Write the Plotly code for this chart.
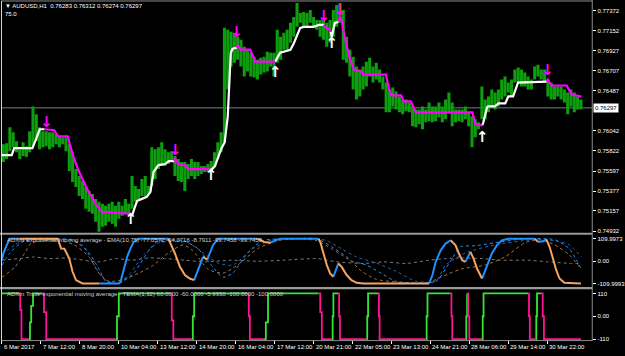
import numpy as np
import plotly.graph_objects as go

# ---------------- data ----------------
header_text = "▼ AUDUSD,H1  0.76283 0.76312 0.76274 0.76297"
header_text2 = "75.0"
ema_title = "ADXm Exponential moving average - EMA(10,75) -77.0572 -94.0716 -8.7911 -99.7458 -99.7458"
tema_title = "ADXm Triple exponential moving average - TEMA(1,32) 60.0000 -60.0000 -5.9930 -100.0000 -100.0000"
last_close = 0.76297

time_labels = ["6 Mar 2017", "7 Mar 12:00", "8 Mar 20:00", "10 Mar 04:00", "13 Mar 12:00",
               "14 Mar 20:00", "16 Mar 04:00", "17 Mar 12:00", "20 Mar 21:00", "22 Mar 05:00",
               "23 Mar 13:00", "24 Mar 21:00", "28 Mar 06:00", "29 Mar 14:00", "30 Mar 22:00"]
time_label_bars = [0, 32, 64, 96, 128, 160, 192, 224, 256, 288, 320, 352, 384, 416, 448]

price_ticks = [0.77372, 0.77152, 0.76927, 0.76707, 0.76487, 0.76042,
               0.75822, 0.75597, 0.75377, 0.75157, 0.74932]
ema_ticks = [109.9973, 0.0, -109.9993]
ema_tick_text = ["109.9973", "0.00", "-109.9993"]
tema_ticks = [110, 0, -110]
tema_tick_text = ["110", "0.00", "-110"]

# price columns, one every ~2.7 hourly bars
sample_first_bar = 1.08
sample_step = 2.712
price_high = [
 0.75895,0.75906,0.76082,0.76027,0.75928,0.75840,0.75917,0.75873,0.76038,0.76313,
 0.76225,0.76082,0.76038,0.76038,0.76027,0.76027,0.76005,0.75983,0.75972,0.75972,
 0.75895,0.75807,0.75620,0.75543,0.75488,0.75422,0.75378,0.75345,0.75290,0.75257,
 0.75235,0.75213,0.75235,0.75257,0.75213,0.75257,0.75213,0.75290,0.75235,0.75543,
 0.75433,0.75400,0.75510,0.75543,0.75433,0.75862,0.75840,0.75862,0.75917,0.75840,
 0.75807,0.75818,0.75763,0.75730,0.75697,0.75697,0.75675,0.75730,0.75697,0.75697,
 0.75653,0.75653,0.75675,0.75708,0.75807,0.75917,0.76027,0.77182,0.77160,0.77138,
 0.77127,0.77083,0.77050,0.76973,0.76940,0.76907,0.76863,0.76830,0.76852,0.76863,
 0.76918,0.76907,0.76907,0.77160,0.77083,0.77127,0.77160,0.77237,0.77303,0.77457,
 0.77347,0.77358,0.77347,0.77380,0.77303,0.77270,0.77270,0.77270,0.77237,0.77270,
 0.77380,0.77435,0.77457,0.77380,0.77083,0.76940,0.76863,0.76753,0.76720,0.76753,
 0.76808,0.76852,0.76753,0.76797,0.76720,0.76643,0.76577,0.76500,0.76522,0.76478,
 0.76423,0.76390,0.76390,0.76357,0.76313,0.76280,0.76280,0.76313,0.76280,0.76357,
 0.76313,0.76313,0.76357,0.76313,0.76390,0.76467,0.76357,0.76280,0.76280,0.76280,
 0.76313,0.76247,0.76203,0.76170,0.76137,0.76533,0.76390,0.76423,0.76500,0.76467,
 0.76500,0.76610,0.76643,0.76577,0.76610,0.76720,0.76742,0.76720,0.76687,0.76643,
 0.76610,0.76753,0.76775,0.76720,0.76720,0.76610,0.76577,0.76533,0.76533,0.76533,
 0.76500,0.76467,0.76500,0.76467,0.76423,0.76390]
price_low = [
 0.75697,0.75730,0.75818,0.75862,0.75807,0.75730,0.75763,0.75752,0.75807,0.75873,
 0.75928,0.75840,0.75862,0.75873,0.75840,0.75862,0.75895,0.75862,0.75895,0.75818,
 0.75598,0.75477,0.75422,0.75323,0.75290,0.75180,0.75147,0.75125,0.75037,0.74927,
 0.74982,0.74993,0.75037,0.75015,0.74982,0.75070,0.75103,0.75125,0.75125,0.75180,
 0.75257,0.75290,0.75323,0.75323,0.75345,0.75433,0.75510,0.75620,0.75653,0.75653,
 0.75675,0.75697,0.75543,0.75488,0.75477,0.75378,0.75510,0.75543,0.75510,0.75543,
 0.75565,0.75587,0.75587,0.75587,0.75653,0.75730,0.75807,0.75917,0.76500,0.76753,
 0.76797,0.76830,0.76753,0.76643,0.76698,0.76643,0.76632,0.76610,0.76665,0.76687,
 0.76698,0.76753,0.76643,0.76797,0.76830,0.76940,0.76940,0.77017,0.77083,0.77193,
 0.77237,0.77193,0.77193,0.77237,0.77193,0.77160,0.77083,0.77050,0.76973,0.77017,
 0.77083,0.77193,0.77237,0.76830,0.76797,0.76643,0.76500,0.76390,0.76423,0.76500,
 0.76533,0.76643,0.76577,0.76610,0.76577,0.76500,0.76247,0.76247,0.76313,0.76280,
 0.76247,0.76225,0.76258,0.76247,0.76093,0.76082,0.76115,0.76060,0.76137,0.76148,
 0.76137,0.76148,0.76192,0.76137,0.76170,0.76247,0.76093,0.76137,0.76148,0.76137,
 0.76170,0.76093,0.75862,0.75972,0.76060,0.76170,0.76170,0.76247,0.76313,0.76280,
 0.76313,0.76390,0.76423,0.76467,0.76423,0.76577,0.76577,0.76533,0.76533,0.76500,
 0.76500,0.76610,0.76643,0.76610,0.76577,0.76423,0.76390,0.76390,0.76423,0.76390,
 0.76357,0.76225,0.76313,0.76247,0.76280,0.76280]

# trend line (white = up, magenta = down); dir is the colour of the segment ending at the point
trend_bar = [0, 8, 10, 25, 28, 31, 35,
             43, 46, 54, 58, 63, 70, 77, 82, 92, 106,
             107, 111, 119, 122, 124.5, 128.5, 134, 137, 141.5,
             142, 145, 150.5, 153, 171,
             172, 175, 180, 183, 185.5, 188, 189.5, 193,
             193.5, 196, 204, 208, 224.5,
             228.5, 237, 240, 245, 248, 256, 260.5, 264.5,
             265, 268.5, 270,
             271, 273.5, 276.5,
             277.5, 279, 281.5, 285.5, 289, 295.5, 297, 315.5, 318, 320, 328, 330, 336, 340, 386.5, 389, 394.5,
             395.5, 398.5, 399.5, 405, 408, 413.5, 416, 420, 424, 447.5,
             448.5, 451.5, 464, 468, 476]
trend_price = [0.75774, 0.75774, 0.75851, 0.75851, 0.75950, 0.76060, 0.76060,
               0.76049, 0.75983, 0.75983, 0.75785, 0.75598, 0.75400, 0.75235, 0.75147, 0.75136, 0.75125,
               0.75114, 0.75268, 0.75312, 0.75367, 0.75587, 0.75664, 0.75675, 0.75708, 0.75708,
               0.75741, 0.75675, 0.75664, 0.75620, 0.75620,
               0.75609, 0.75653, 0.75840, 0.75917, 0.76203, 0.76907, 0.76951, 0.76962,
               0.76995, 0.76940, 0.76940, 0.76808, 0.76808,
               0.76907, 0.76940, 0.77017, 0.77182, 0.77193, 0.77193, 0.77215, 0.77215,
               0.77193, 0.77171, 0.77138,
               0.77083, 0.77237, 0.77248,
               0.77303, 0.77270, 0.77083, 0.76863, 0.76720, 0.76698, 0.76665, 0.76665, 0.76500, 0.76434,
               0.76434, 0.76368, 0.76368, 0.76247, 0.76247, 0.76115, 0.76104,
               0.76137, 0.76302, 0.76313, 0.76313, 0.76346, 0.76346, 0.76423, 0.76423, 0.76577, 0.76588,
               0.76610, 0.76544, 0.76544, 0.76445, 0.76423]
trend_dir = list("uuuuuuu" + "dddddddddd" + "uuuuuuuuu" + "ddddd" + "uuuuuuuu" + "ddddd" +
                 "uuuuuuuu" + "ddd" + "uuu" + "ddddddddddddddddd" + "uuuuuuuuuu" + "ddddd")

# signal arrows
down_arrow_bar = [36.6, 142.4, 192.8, 264.4, 277.5, 448.3]
down_arrow_price = [0.76126, 0.75818, 0.77127, 0.77303, 0.77370, 0.76698]
up_arrow_bar = [105.8, 171.7, 224.6, 271.0, 394.6]
up_arrow_price = [0.75048, 0.75543, 0.76676, 0.76995, 0.75961]

# ADXm EMA panel: main line (blue rising / orange falling)
ema_bar = [0, 1.1, 3.8, 6.5, 14.6, 45.8, 48.6, 51.3, 55.3, 58, 60.8, 66.2, 79.7, 96, 97.4, 100, 102.8,
           105.5, 108.2, 112.3, 136.7, 138, 142.1, 146.2, 150.3, 154.3, 157.9, 161.1, 165.2, 168.7,
           173.3, 177.4, 209.9, 215.4, 220.8, 224.8, 228.9, 260.1, 261.5, 264.2, 266.9, 269.6, 272.3,
           276.4, 279.1, 283.2, 287.2, 291.3, 296.7, 351, 353.7, 356.4, 360.5, 364.5, 368.6, 372.7,
           375.4, 378.1, 380.8, 384.9, 387.5, 390.3, 394.4, 398.4, 402.5, 406.6, 410.7, 416.1, 437.8,
           440.4, 444.5, 447.3, 450, 452.7, 455.4, 458.1, 462.1, 475.7]
ema_main = [4, 37, 77, 110, 110, 110, 61, 60, 12, -53, -94, -110, -110, -110, -102, -45, 20, 61, 94,
            110, 110, 94, 37, -28, -69, -86, -94, -45, 20, 7, 77, 110, 110, 94, 90, 102, 110, 110, 94,
            37, -20, -61, -77, -12, -29, -69, -94, -107, -110, -110, -69, -4, 53, 86, 102, 77, 37, 4,
            -4, 45, 12, -37, -86, -20, 37, 77, 102, 110, 110, 94, 97, 107, 69, 12, -45, -86, -107, -110]
ema_dir = list("uuuuu" + "dddddddd" + "uuuuuuuu" + "dddddd" + "uu" + "d" + "uuu" + "dd" + "uuu" +
               "ddddd" + "u" + "dddddd" + "uuuuu" + "dddd" + "u" + "ddd" + "uuuuuu" + "d" + "uu" + "dddddd")

# dotted component lines
gray_dot_bar = [0, 14.6, 25.2, 39, 52.9, 79.7, 93.6, 106.6, 120.4, 134.3, 150.5, 166.8, 188, 209.9,
                231.9, 258.7, 275, 297, 313.3, 332, 350.7, 364.5, 378.4, 394.6, 410.9, 432.1, 448.3,
                467.9, 476]
gray_dot = [4, 12, 20, 12, 15, -4, 12, 4, 15, 12, 4, -4, 4, -1, 4, 12, -4, -12, -4, -12, 4, 12, 15,
            12, 4, 4, -4, -12, -12]
blue_dot_a_bar = [0, 6.5, 18.7, 47.2, 59.4, 71.6, 79.7, 85.4, 96, 108.2, 120.4, 128.6, 148.9, 161.1,
                  173.3, 181.4, 189.6, 201.8, 214, 242.5, 258.7, 270.9, 279.1, 287.2, 299.4, 311.6,
                  323.8, 356.4, 368.6, 376.7, 388.9, 405.2, 429.6, 454, 466.2, 476]
blue_dot_a = [-20, 40, 100, 110, 100, 40, -40, -100, -110, -60, 50, 100, 100, 60, -30, -80, -60, 40,
              100, 110, 100, 60, 30, 0, -20, -60, -100, -100, 0, 70, 75, 90, 110, 105, 60, -40]
blue_dot_b_bar = [0, 10.6, 22.8, 55.3, 67.5, 75.7, 83.8, 94.4, 104.1, 116.4, 128.6, 153, 165.2, 177.4,
                  189.6, 205.9, 222.1, 258.7, 266.9, 279.1, 291.3, 307.6, 323.8, 340.1, 356.4, 364.5,
                  380.8, 405.2, 437.8, 454, 466.2, 476]
blue_dot_b = [30, 80, 110, 105, 70, -20, -90, -110, -70, 30, 90, 90, 40, -10, -20, 60, 105, 110, 100,
              60, 20, -10, -50, -100, -100, -20, 40, 80, 105, 100, 80, 20]
orange_dot_bar = [0, 10.6, 18.7, 24.4, 47.2, 59.4, 71.6, 79.7, 87.9, 100.1, 112.3, 124.5, 136.7, 148.9,
                  157, 169.2, 181.4, 193.6, 209.9, 226.2, 258.7, 270.9, 283.2, 295.4, 307.6, 348.3,
                  360.5, 376.7, 397, 413.3, 429.6, 441.8, 454, 466.2, 476]
orange_dot = [-80, -30, 40, 90, 100, 80, 20, -60, -100, -90, -60, -20, 40, 80, 50, -40, -60, -20, 60,
              100, 110, 70, 20, -50, -90, -110, -80, -40, -20, 20, 90, 105, 80, 30, -40]

# ADXm TEMA panel (green up / pink down), stepped
tema_bar = [0, 14, 15, 16, 22, 23, 24, 25.5, 33, 34.5, 36.4, 93.3, 94.5, 96, 138, 139.5, 140.8, 155.7,
            156.8, 157.9, 201.8, 202.8, 203.7, 215.4, 216.8, 218.6, 260.1, 261.5, 262.8, 271, 271.7,
            272.3, 276.4, 277, 277.7, 299.4, 300.1, 300.8, 309, 309.7, 310.3, 348.2, 348.9, 349.6,
            368.6, 369.3, 370, 380.8, 381.5, 382.2, 383, 384, 394.4, 395, 395.7, 432.3, 433, 433.7,
            438.3, 439, 439.6, 443.2, 444.3, 445.3, 475.7]
tema_val = [110, 110, 30, -110, -110, -30, 50, 110, 110, 20, -110, -110, 0, 110, 110, -20, -110, -110,
            0, 110, 110, 0, -110, -110, -30, 110, 110, 20, -110, -110, 0, 110, 110, 0, -110, -110, 0,
            110, 110, 0, -110, -110, 0, 110, 110, 0, -110, -110, 0, 110, 0, -110, -110, 0, 110, 110, 0,
            -110, -110, 0, 110, 110, 0, -110, -110]
tema_dir = list("uu" + "ddd" + "uuuu" + "ddd" + "uuu" + "ddd" + "uuu" + "ddd" + "uuu" + "ddd" + "uuu" +
                "ddd" + "uuu" + "ddd" + "uuu" + "ddd" + "uu" + "ddd" + "uuu" + "ddd" + "uuu" + "ddd")

assert len(price_high) == len(price_low)
assert len(trend_bar) == len(trend_price) == len(trend_dir)
assert len(ema_bar) == len(ema_main) == len(ema_dir)
assert len(tema_bar) == len(tema_val) == len(tema_dir)

# ---------------- layout helpers ----------------
W, H = 625, 356
def py(y):
    return 1 - y / H
def pxf(x):
    return x / W

FONT = "Liberation Sans"
x_dom = [pxf(2), pxf(598)]
x_range = [0, 485]

def split_dir(xs, ys, ds):
    out = {}
    cur_d = ds[0]
    cur = [(xs[0], ys[0])]
    segs = []
    for i in range(1, len(xs)):
        if ds[i] == cur_d:
            cur.append((xs[i], ys[i]))
        else:
            segs.append((cur_d, cur))
            cur_d = ds[i]
            cur = [(xs[i - 1], ys[i - 1]), (xs[i], ys[i])]
    segs.append((cur_d, cur))
    for d, pts in segs:
        X, Y = out.setdefault(d, ([], []))
        for a, b in pts:
            X.append(a); Y.append(b)
        X.append(None); Y.append(None)
    return out

fig = go.Figure()

# price bars
bars_x = sample_first_bar + sample_step * np.arange(len(price_high))
bx, by = [], []
for xb, lo, hi in zip(bars_x, price_low, price_high):
    bx += [xb, xb, None]
    by += [lo, hi, None]
fig.add_trace(go.Scatter(x=bx, y=by, mode="lines", line=dict(color="rgb(12,158,12)", width=3.1),
                         xaxis="x", yaxis="y", hoverinfo="skip"))

# trend line
tr = split_dir(trend_bar, trend_price, trend_dir)
for d, col in (("u", "white"), ("d", "#ff00ff")):
    X, Y = tr[d]
    fig.add_trace(go.Scatter(x=X, y=Y, mode="lines", line=dict(color=col, width=2.2),
                             xaxis="x", yaxis="y", hoverinfo="skip"))

# arrows
fig.add_trace(go.Scatter(x=down_arrow_bar, y=down_arrow_price, mode="text", text=["↓"] * len(down_arrow_bar),
                         textfont=dict(family="DejaVu Sans", size=15, color="#ff00ff", weight="bold"),
                         cliponaxis=False, xaxis="x", yaxis="y", hoverinfo="skip"))
fig.add_trace(go.Scatter(x=up_arrow_bar, y=up_arrow_price, mode="text", text=["↑"] * len(up_arrow_bar),
                         textfont=dict(family="DejaVu Sans", size=15, color="white", weight="bold"),
                         cliponaxis=False, xaxis="x", yaxis="y", hoverinfo="skip"))

# EMA panel dotted
for xs, ys, col in ((gray_dot_bar, gray_dot, "#7a7a7a"),
                    (orange_dot_bar, orange_dot, "#b8702a"),
                    (blue_dot_b_bar, blue_dot_b, "#2a62b0"),
                    (blue_dot_a_bar, blue_dot_a, "#1e90ff")):
    fig.add_trace(go.Scatter(x=xs, y=ys, mode="lines",
                             line=dict(color=col, width=1, dash="dot", shape="spline", smoothing=0.6),
                             xaxis="x2", yaxis="y2", hoverinfo="skip"))
em = split_dir(ema_bar, ema_main, ema_dir)
for d, col in (("u", "#1e90ff"), ("d", "#f4a460")):
    X, Y = em[d]
    fig.add_trace(go.Scatter(x=X, y=Y, mode="lines", line=dict(color=col, width=2),
                             xaxis="x2", yaxis="y2", hoverinfo="skip"))

# TEMA panel
tm = split_dir(tema_bar, tema_val, tema_dir)
for d, col in (("u", "#32e632"), ("d", "#ff1493")):
    X, Y = tm[d]
    fig.add_trace(go.Scatter(x=X, y=Y, mode="lines", line=dict(color=col, width=1.8, shape="hv"),
                             xaxis="x3", yaxis="y3", hoverinfo="skip"))

tickfont = dict(family=FONT, size=6, color="white")
fig.update_layout(
    width=W, height=H, margin=dict(l=0, r=0, t=0, b=0),
    paper_bgcolor="black", plot_bgcolor="black", showlegend=False,
    xaxis=dict(domain=x_dom, range=x_range, visible=False, anchor="y"),
    xaxis2=dict(domain=x_dom, range=x_range, visible=False, anchor="y2", matches="x"),
    xaxis3=dict(domain=x_dom, range=x_range, anchor="y3", matches="x", showgrid=False, zeroline=False,
                showline=False, showticklabels=False, ticks="outside", ticklen=3, tickcolor="white",
                tickmode="array", tickvals=time_label_bars),
    yaxis=dict(domain=[py(234), py(2)], range=[0.74916, 0.77468], side="right", anchor="x",
               showgrid=False, zeroline=False, tickmode="array", tickvals=price_ticks,
               ticktext=[f"{v:.5f}" for v in price_ticks], ticks="outside", ticklen=3,
               tickcolor="white", tickfont=tickfont),
    yaxis2=dict(domain=[py(288), py(236)], range=[-124.7, 129.6], side="right", anchor="x2",
                showgrid=False, zeroline=False, tickmode="array", tickvals=ema_ticks,
                ticktext=ema_tick_text, ticks="outside", ticklen=3, tickcolor="white", tickfont=tickfont),
    yaxis3=dict(domain=[py(342), py(291)], range=[-114.9, 129.6], side="right", anchor="x3",
                showgrid=False, zeroline=False, tickmode="array", tickvals=tema_ticks,
                ticktext=tema_tick_text, ticks="outside", ticklen=3, tickcolor="white", tickfont=tickfont),
)

shapes = []
# current price line
shapes.append(dict(type="line", xref="paper", yref="y", x0=x_dom[0], x1=x_dom[1], y0=last_close, y1=last_close,
                   line=dict(color="#6f7f8f", width=1), layer="below"))
# frame and separators
grey = "#8c8c8c"
shapes += [
    dict(type="line", xref="paper", yref="paper", x0=pxf(1), x1=pxf(598), y0=py(1), y1=py(1), line=dict(color=grey, width=1)),
    dict(type="rect", xref="paper", yref="paper", x0=0, x1=pxf(598), y0=py(236), y1=py(234), fillcolor="#9a9a9a", line=dict(width=0)),
    dict(type="rect", xref="paper", yref="paper", x0=0, x1=pxf(598), y0=py(291), y1=py(288.5), fillcolor="#9a9a9a", line=dict(width=0)),
    dict(type="line", xref="paper", yref="paper", x0=pxf(1), x1=pxf(598), y0=py(342.5), y1=py(342.5), line=dict(color=grey, width=1)),
    dict(type="line", xref="paper", yref="paper", x0=pxf(1.5), x1=pxf(1.5), y0=py(1), y1=py(342.5), line=dict(color="#d8d8d8", width=1)),
    dict(type="line", xref="paper", yref="paper", x0=pxf(598), x1=pxf(598), y0=py(0), y1=py(343), line=dict(color=grey, width=1)),
]
fig.update_layout(shapes=shapes)

ann = [
    dict(xref="paper", yref="paper", x=pxf(3), y=py(6.5), text=header_text, showarrow=False,
         xanchor="left", yanchor="middle", font=dict(family=FONT, size=6, color="white")),
    dict(xref="paper", yref="paper", x=pxf(3), y=py(14.5), text=header_text2, showarrow=False,
         xanchor="left", yanchor="middle", font=dict(family=FONT, size=6, color="white")),
    dict(xref="paper", yref="paper", x=pxf(5), y=py(241.5), text=ema_title, showarrow=False,
         xanchor="left", yanchor="middle", font=dict(family=FONT, size=6, color="#d0d0d0")),
    dict(xref="paper", yref="paper", x=pxf(5), y=py(296), text=tema_title, showarrow=False,
         xanchor="left", yanchor="middle", font=dict(family=FONT, size=6, color="#d0d0d0")),
    dict(xref="paper", yref="y", x=pxf(599), y=last_close, text=f"{last_close:.5f}", showarrow=False,
         xanchor="left", yanchor="middle", bgcolor="white", borderpad=1,
         font=dict(family=FONT, size=6, color="black")),
]
for b, t in zip(time_label_bars, time_labels):
    ann.append(dict(xref="x3", yref="paper", x=b, y=py(349), text=t, showarrow=False, xanchor="left",
                    yanchor="middle", xshift=0, font=dict(family=FONT, size=6, color="white")))
fig.update_layout(annotations=ann)

fig.write_html("out.html")
